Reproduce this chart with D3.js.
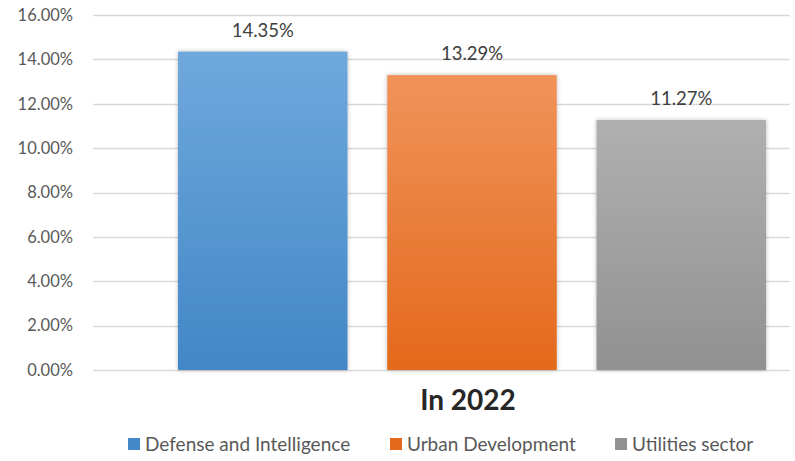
<!DOCTYPE html>
<html>
<head>
<meta charset="utf-8">
<script src="https://cdn.jsdelivr.net/npm/d3@7"></script>
<style>
  html, body { margin: 0; padding: 0; background: #fff; }
  svg { display: block; font-family: Lato, "Open Sans", sans-serif; }
</style>
</head>
<body>
<svg id="chart" width="795" height="461"></svg>
<script>
// Share by sector, single year
const category = "In 2022";
const series = ["Defense and Intelligence", "Urban Development", "Utilities sector"];
const values = [14.35, 13.29, 11.27];
const yTicks = [0, 2, 4, 6, 8, 10, 12, 14, 16];
const colorsTop = ["#6fa8dc", "#f0935a", "#b0b0b0"];
const colorsBottom = ["#4287c7", "#e4691b", "#919191"];

const svg = d3.select("#chart");
const plot = { left: 93, right: 790, top: 15, bottom: 370 };

const y = d3.scaleLinear().domain([0, 16]).range([plot.bottom, plot.top]);
const x = d3.scaleBand().domain(series).range([178, 766]).paddingInner(0.19).paddingOuter(0);

const defs = svg.append("defs");
series.forEach((s, i) => {
  const g = defs.append("linearGradient")
    .attr("id", "grad" + i).attr("x1", 0).attr("y1", 0).attr("x2", 0).attr("y2", 1);
  g.append("stop").attr("offset", "0%").attr("stop-color", colorsTop[i]);
  g.append("stop").attr("offset", "100%").attr("stop-color", colorsBottom[i]);
});
const shadow = defs.append("filter").attr("id", "shadow")
  .attr("x", "-10%").attr("y", "-10%").attr("width", "120%").attr("height", "120%");
shadow.append("feDropShadow").attr("dx", 0).attr("dy", 0).attr("stdDeviation", 2.2)
  .attr("flood-color", "#000").attr("flood-opacity", 0.28);

// gridlines
svg.append("g").selectAll("line").data(yTicks).join("line")
  .attr("x1", plot.left).attr("x2", plot.right)
  .attr("y1", d => Math.round(y(d)) + 0.5).attr("y2", d => Math.round(y(d)) + 0.5)
  .attr("stroke", "#d9d9d9").attr("stroke-width", 1.3);

// y axis labels
const yAxis = d3.axisLeft(y).tickValues(yTicks).tickSize(0).tickPadding(0)
  .tickFormat(d => d.toFixed(2) + "%");
const ya = svg.append("g").attr("transform", `translate(73,0)`).call(yAxis);
ya.select(".domain").remove();
ya.selectAll("text").attr("font-size", 16.5).attr("fill", "#595959")
  .attr("font-family", "Lato, 'Open Sans', sans-serif");

// bars
svg.append("g").selectAll("rect").data(series).join("rect")
  .attr("x", d => x(d))
  .attr("y", (d, i) => y(values[i]))
  .attr("width", x.bandwidth())
  .attr("height", (d, i) => y(0) - y(values[i]))
  .attr("fill", (d, i) => `url(#grad${i})`)
  .attr("filter", "url(#shadow)");

// value labels
svg.append("g").selectAll("text").data(series).join("text")
  .attr("x", d => x(d) + x.bandwidth() / 2)
  .attr("y", (d, i) => y(values[i]) - 15)
  .attr("text-anchor", "middle")
  .attr("font-size", 18.5).attr("fill", "#404040")
  .text((d, i) => values[i].toFixed(2) + "%");

// category label
svg.append("text")
  .attr("x", 468)
  .attr("y", 410)
  .attr("text-anchor", "middle")
  .attr("font-size", 28).attr("font-weight", 700).attr("fill", "#262626")
  .text(category);

// legend
const legendX = [128, 390, 615];
const lg = svg.append("g").selectAll("g").data(series).join("g")
  .attr("transform", (d, i) => `translate(${legendX[i]},444)`);
lg.append("rect").attr("x", 0).attr("y", -6).attr("width", 12).attr("height", 12)
  .attr("fill", (d, i) => colorsBottom[i]);
lg.append("text").attr("x", 17).attr("y", 7)
  .attr("font-size", 19).attr("fill", "#595959")
  .text(d => d);
</script>
</body>
</html>
